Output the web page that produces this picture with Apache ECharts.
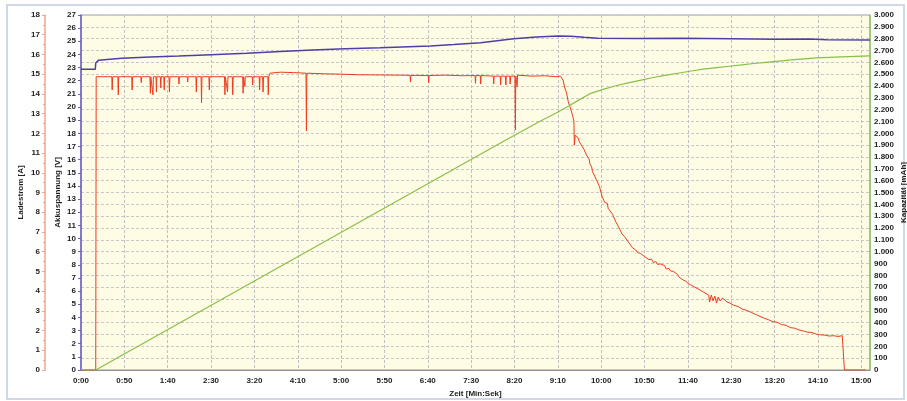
<!DOCTYPE html>
<html><head><meta charset="utf-8">
<script src="https://cdn.jsdelivr.net/npm/echarts@6/dist/echarts.min.js"></script>
<style>html,body{margin:0;padding:0;background:#fff}#c{width:907px;height:401px}</style>
</head><body><div id="c"></div>
<script>
// Time in seconds
const voltageData = [[0,22.87],[16.5,22.87],[17,23.35],[20,23.55],[30,23.62],[47,23.71],[80,23.8],[113,23.88],[150,23.98],[191,24.09],[230,24.22],[267,24.34],[305,24.43],[345,24.51],[403,24.64],[430,24.75],[461,24.89],[480,25.05],[499,25.2],[525,25.32],[550,25.4],[565,25.38],[580,25.3],[596,25.23],[640,25.22],[692,25.23],[750,25.2],[800,25.15],[840,25.17],[860,25.12],[910,25.1]];

const currentData = [[0,0],[17,0],[17.5,14.87],
[35.5,14.87],[36,14.2],[36.5,14.87],[42.5,14.87],[43,13.95],[43.5,14.87],[58.5,14.87],[59,14.2],[59.5,14.87],
[69,14.87],[69.5,14.57],[70,14.87],[79.5,14.87],[80,14.03],[80.5,14.87],[82.5,14.87],[83,13.95],[83.5,14.87],
[86.5,14.87],[87,14.1],[87.5,14.87],[91.5,14.87],[92,14.3],[92.5,14.87],[95.5,14.87],[96,14.2],[96.5,14.87],
[101.5,14.87],[102,14.1],[102.5,14.87],[112.5,14.87],[113,14.5],[113.5,14.87],[122.5,14.87],[123,14.6],[123.5,14.87],
[132.5,14.87],[133,14.1],[133.5,14.87],[138.5,14.87],[139,13.55],[139.5,14.87],[147.5,14.87],[148,14.2],[148.5,14.87],
[165.5,14.87],[166,13.95],[166.5,14.87],[168.5,14.87],[169,14.1],[169.5,14.87],[174.5,14.87],[175,13.95],[175.5,14.87],
[186.5,14.87],[187,14.03],[187.5,14.87],[188.5,14.87],[189,14.37],[189.5,14.87],[197.5,14.87],[198,14.45],[198.5,14.87],
[205.5,14.87],[206,14.2],[206.5,14.87],[209.5,14.87],[210,14.1],[210.5,14.87],[215.5,14.87],[216,13.95],[216.5,14.87],
[218,15.05],[230,15.1],[245,15.08],[259.5,15.05],[260,12.13],[260.5,15.05],[280,15.02],[300,15.0],[320,14.97],[345,14.96],
[370,14.95],[379.5,14.94],[380,14.6],[380.5,14.94],[400.5,14.93],[401,14.57],[401.5,14.93],[420,14.95],[440,14.92],
[454.5,14.93],[455,14.54],[455.5,14.93],[460.5,14.93],[461,14.5],[461.5,14.93],[475.5,14.9],[476,14.5],[476.5,14.9],
[483.5,14.9],[484,14.45],[484.5,14.9],[489.5,14.9],[490,14.45],[490.5,14.9],[494.5,14.9],[495,14.5],[495.5,14.9],
[500.5,14.9],[501,12.17],[501.5,14.9],[502.5,14.9],[503,14.37],[503.5,14.95],[505,15.0],[520,14.9],[535,14.92],[548,14.87],
[553,14.9],[556,14.7],[558,14.3],[560,14.05],[562,13.6],[564,13.35],[567,12.9],[568.5,12.6],[569,11.4],[570,11.9],
[573,11.8],[575,11.55],[577,11.6],[580,11.2],[582,11.25],[583,10.9],[586,10.7],[587,10.45],[589,10.3],[590,10.05],[592,10.1],
[595,9.6],[596,9.7],[598,9.3],[601,8.8],[602,8.9],[604,8.5],[607,8.45],[608,8.2],[610,8.15],[613,7.9],[615,7.95],[617,7.5],
[620,7.25],[622,7.3],[624,6.9],[626,6.95],[628,6.7],[632,6.45],[634,6.5],[636,6.2],[640,6.08],[642,5.95],[645,5.92],
[650,5.75],[652,5.8],[655,5.6],[658,5.62],[660,5.45],[663,5.5],[665,5.35],[668,5.38],[670,5.28],[673,5.3],[675,5.12],
[678,5.15],[680,5.02],[683,5.0],[685,4.9],[688,4.85],[690,4.7],[692,4.72],[695,4.55],[698,4.5],[700,4.38],[703,4.32],
[705,4.25],[708,4.2],[710,4.1],[713,4.08],[715,4.0],[718,3.95],[720,3.9],[724,3.8],[725,3.45],[727,3.8],[729,3.5],
[731,3.75],[733,3.4],[735,3.7],[737,3.5],[740,3.65],[742,3.55],[745,3.45],[748,3.4],[750,3.3],[753,3.28],[755,3.2],
[758,3.22],[760,3.15],[763,3.08],[765,3.0],[768,3.02],[770,2.95],[773,2.92],[775,2.85],[778,2.82],[780,2.75],[783,2.72],
[785,2.65],[788,2.62],[790,2.55],[793,2.55],[795,2.5],[798,2.45],[800,2.4],[803,2.42],[805,2.35],[808,2.3],[810,2.25],
[813,2.27],[815,2.2],[818,2.15],[820,2.1],[823,2.12],[825,2.05],[828,2.03],[830,2.0],[833,1.98],[835,1.95],[838,1.92],
[840,1.88],[843,1.9],[845,1.85],[848,1.82],[850,1.8],[853,1.78],[855,1.75],[858,1.77],[860,1.75],[863,1.72],[865,1.7],
[868,1.74],[870,1.72],[873,1.7],[875,1.7],[878,1.74],[880,1.72],[880.5,0],[905,0]];

const capacityData = [[0,0],[17,0],[490,1944],[530,2104],[548,2172],[561,2225],[575,2285],[588,2338],[602,2372],[616,2400],[631,2426],[646,2450],[660,2472],[675,2492],[690,2510],[704,2527],[718,2542],[733,2555],[748,2567],[762,2578],[776,2590],[790,2600],[805,2611],[819,2620],[834,2629],[848,2637],[863,2642],[877,2646],[893,2650],[910,2654]];

const axisNames = {x:'Zeit [Min:Sek]', current:'Ladestrom [A]', voltage:'Akkuspannung [V]', capacity:'Kapazität [mAh]'};

const lbl = {fontSize:8, fontWeight:'bold', color:'#222', fontFamily:'Liberation Sans, Arial, sans-serif'};
const nameStyle = {fontSize:8, fontWeight:'bold', color:'#222', fontFamily:'Liberation Sans, Arial, sans-serif'};

function fmtTime(v){const m=Math.floor(v/60), s=v%60; return m+':'+(s<10?'0':'')+s;}
function fmtCap(v){ if(v<1000) return String(v); return Math.floor(v/1000)+'.'+String(v%1000).padStart(3,'0'); }

const chart = echarts.init(document.getElementById('c'), null, {renderer:'canvas'});
chart.setOption({
  animation:false,
  backgroundColor:'#ffffff',
  graphic:[{type:'rect', shape:{x:7,y:5,width:897,height:394}, style:{fill:'none', stroke:'#cfd8e3', lineWidth:2}, z:-1}],
  grid:{left:81, right:37, top:15, bottom:31, outerBoundsMode:'none', containLabel:false, show:true, backgroundColor:'#fffce6', borderColor:'#a0a0a0', borderWidth:1},
  xAxis:{type:'value', min:0, max:910, interval:50,
    name:axisNames.x, nameLocation:'middle', nameGap:20, nameMoveOverlap:false, nameTextStyle:nameStyle,
    axisLabel:Object.assign({formatter:fmtTime, margin:7}, lbl),
    axisLine:{lineStyle:{color:'#909090', width:1}}, axisTick:{show:false},
    splitLine:{show:true, lineStyle:{color:'#c0c0c0', type:[3,2], width:1}}},
  yAxis:[
    {type:'value', min:0, max:27, interval:1, position:'left', offset:0,
     name:axisNames.voltage, nameLocation:'middle', nameRotate:90, nameGap:19, nameMoveOverlap:false, nameTextStyle:nameStyle,
     axisLabel:Object.assign({margin:5}, lbl),
     axisLine:{show:true, lineStyle:{color:'#6a5fc8', width:1.5}},
     axisTick:{show:true, length:3, lineStyle:{color:'#6a5fc8'}},
     splitLine:{show:false}},
    {type:'value', min:0, max:18, interval:1, position:'left', offset:36,
     name:axisNames.current, nameLocation:'middle', nameRotate:90, nameGap:20, nameMoveOverlap:false, nameTextStyle:nameStyle,
     axisLabel:Object.assign({margin:5}, lbl),
     axisLine:{show:true, lineStyle:{color:'#f0a58a', width:1.5}},
     axisTick:{show:true, length:3, lineStyle:{color:'#f0a58a'}},
     minorTick:{show:true, splitNumber:2, length:2, lineStyle:{color:'#f0a58a'}},
     splitLine:{show:false}},
    {type:'value', min:0, max:3000, interval:100, position:'right', offset:0,
     name:axisNames.capacity, nameLocation:'middle', nameRotate:90, nameGap:30, nameMoveOverlap:false, nameTextStyle:nameStyle,
     axisLabel:Object.assign({formatter:fmtCap, margin:4}, lbl),
     axisLine:{show:true, lineStyle:{color:'#92c862', width:1.5}},
     axisTick:{show:false},
     splitLine:{show:true, lineStyle:{color:'#c8c8c8', type:[3,2], width:1}}}
  ],
  series:[
    {name:'Strom', type:'line', yAxisIndex:1, data:currentData, showSymbol:false, symbol:'none',
     lineStyle:{color:'#ee3b1e', width:1}, z:3},
    {name:'Kapazität', type:'line', yAxisIndex:2, data:capacityData, showSymbol:false, symbol:'none',
     lineStyle:{color:'#86c046', width:1.2}, z:4},
    {name:'Spannung', type:'line', yAxisIndex:0, data:voltageData, showSymbol:false, symbol:'none',
     lineStyle:{color:'#4d3fa6', width:1.5}, z:5}
  ]
});
</script></body></html>
